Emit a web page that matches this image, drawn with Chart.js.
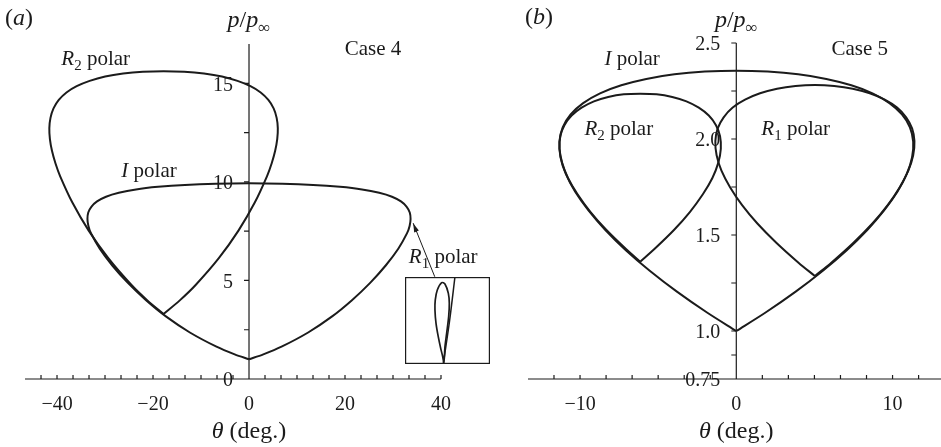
<!DOCTYPE html>
<html>
<head>
<meta charset="utf-8">
<script src="https://cdn.jsdelivr.net/npm/chart.js@4.4.1/dist/chart.umd.min.js"></script>
<style>
  html, body { margin: 0; padding: 0; background: #fff; }
  #wrap { position: relative; width: 941px; height: 447px; overflow: hidden; }
  canvas { position: absolute; top: 0; }
  #polarA { left: 0; }
  #polarB { left: 470px; }
  #insetA { left: 405px; top: 277px; }
</style>
</head>
<body>
<div id="wrap">
  <canvas id="polarA" width="500" height="447"></canvas>
  <canvas id="polarB" width="471" height="447"></canvas>
  <canvas id="insetA" width="85" height="87"></canvas>
</div>
<script>
const ink = '#1b1b1b';
const serif = '"Liberation Serif", "Times New Roman", serif';

// ---- Case 4: [theta (deg), p/p_inf] ----
const case4IPolar = [
  [0, 1.0], [2.98, 1.25], [6.78, 1.64], [12.32, 2.36], [17.17, 3.15], [21.45, 4.0],
  [25.24, 4.88], [28.48, 5.76], [31.1, 6.61], [32.93, 7.4], [33.46, 7.77], [33.66, 8.12],
  [33.49, 8.45], [32.85, 8.74], [31.66, 9.01], [29.79, 9.25], [27.13, 9.45], [23.54, 9.62],
  [18.95, 9.75], [13.35, 9.85], [6.92, 9.91], [0, 9.93], [-6.92, 9.91], [-13.35, 9.85],
  [-18.95, 9.75], [-23.54, 9.62], [-27.13, 9.45], [-29.79, 9.25], [-31.66, 9.01], [-32.85, 8.74],
  [-33.49, 8.45], [-33.66, 8.12], [-33.46, 7.77], [-32.93, 7.4], [-31.1, 6.61], [-28.48, 5.76],
  [-25.24, 4.88], [-21.45, 4.0], [-17.17, 3.15], [-12.32, 2.36], [-6.78, 1.64], [-2.98, 1.25], [0, 1.0]
];
const case4R2Polar = [
  [-17.8, 3.3], [-14.42, 3.99], [-11.12, 4.77], [-6.29, 6.13], [-2.2, 7.53], [1.17, 8.94],
  [3.76, 10.3], [4.73, 10.95], [5.45, 11.58], [5.88, 12.17], [6.0, 12.73], [5.76, 13.25],
  [5.13, 13.73], [4.03, 14.16], [2.43, 14.54], [0.3, 14.86], [-2.4, 15.13], [-5.63, 15.35],
  [-9.38, 15.5], [-13.49, 15.59], [-17.8, 15.62], [-22.11, 15.59], [-26.22, 15.5], [-29.97, 15.35],
  [-33.2, 15.13], [-35.9, 14.86], [-38.03, 14.54], [-39.63, 14.16], [-40.73, 13.73], [-41.36, 13.25],
  [-41.6, 12.73], [-41.48, 12.17], [-41.05, 11.58], [-40.33, 10.95], [-39.36, 10.3], [-36.77, 8.94],
  [-33.4, 7.53], [-29.31, 6.13], [-24.48, 4.77], [-21.18, 3.99], [-17.8, 3.3]
];
// magnified view near the I polar's maximum deflection
const case4IPolarNearMax = [[33.67, 8.8], [33.62, 8.4], [33.56, 8.0]];
const case4R1Polar = [
  [33.565, 8.01], [33.571, 8.067], [33.576, 8.159], [33.592, 8.282], [33.611, 8.435],
  [33.617, 8.558], [33.608, 8.65], [33.576, 8.736], [33.545, 8.748], [33.504, 8.68],
  [33.485, 8.589], [33.482, 8.497], [33.492, 8.374], [33.513, 8.251], [33.536, 8.144],
  [33.555, 8.067], [33.565, 8.01]
];

// ---- Case 5 ----
const case5IPolar = [
  [0, 1.0], [1.85, 1.095], [3.8, 1.205], [5.54, 1.314], [7.07, 1.421], [8.38, 1.526],
  [9.46, 1.628], [10.31, 1.725], [10.91, 1.818], [11.25, 1.905], [11.32, 1.986], [11.11, 2.061],
  [10.6, 2.128], [9.8, 2.187], [8.72, 2.238], [7.36, 2.28], [5.76, 2.313], [3.96, 2.337],
  [2.01, 2.351], [0, 2.356], [-2.01, 2.351], [-3.96, 2.337], [-5.76, 2.313], [-7.36, 2.28],
  [-8.72, 2.238], [-9.8, 2.187], [-10.6, 2.128], [-11.11, 2.061], [-11.32, 1.986], [-11.25, 1.905],
  [-10.91, 1.818], [-10.31, 1.725], [-9.46, 1.628], [-8.38, 1.526], [-7.07, 1.421], [-5.54, 1.314],
  [-3.8, 1.205], [-1.85, 1.095], [0, 1.0]
];
const case5R1Polar = [
  [5.03, 1.286], [6.08, 1.356], [7.5, 1.46], [8.71, 1.56], [9.7, 1.657], [10.46, 1.749],
  [11.01, 1.835], [11.32, 1.915], [11.4, 1.989], [11.25, 2.055], [10.87, 2.113], [10.29, 2.164],
  [9.5, 2.205], [8.54, 2.238], [7.45, 2.262], [6.27, 2.276], [5.03, 2.281], [3.79, 2.276],
  [2.61, 2.262], [1.52, 2.238], [0.56, 2.205], [-0.23, 2.164], [-0.81, 2.113], [-1.19, 2.055],
  [-1.34, 1.989], [-1.26, 1.915], [-0.95, 1.835], [-0.4, 1.749], [0.36, 1.657], [1.35, 1.56],
  [2.56, 1.46], [3.98, 1.356], [5.03, 1.286]
];
const case5R2Polar = [
  [-6.15, 1.361], [-5.24, 1.427], [-3.99, 1.526], [-2.96, 1.621], [-2.14, 1.712], [-1.53, 1.797],
  [-1.15, 1.877], [-0.99, 1.949], [-1.04, 2.015], [-1.3, 2.072], [-1.76, 2.122], [-2.4, 2.163],
  [-3.19, 2.196], [-4.1, 2.219], [-5.1, 2.233], [-6.15, 2.236], [-7.2, 2.233], [-8.2, 2.219],
  [-9.11, 2.196], [-9.9, 2.163], [-10.54, 2.122], [-11.0, 2.072], [-11.26, 2.015], [-11.31, 1.949],
  [-11.15, 1.877], [-10.77, 1.797], [-10.16, 1.712], [-9.34, 1.621], [-8.31, 1.526], [-7.06, 1.427],
  [-6.15, 1.361]
];

// ---- tick labels ----
const case4XLabels = [-40, -20, 0, 20, 40];
const case4YLabels = [0, 5, 10, 15];
const case5XLabels = [-10, 0, 10];
const case5YLabels = [0.75, 1.0, 1.5, 2.0, 2.5];

// minor tick marks
const case4XTicks = [];
for (let k = -13; k <= 12; k++) case4XTicks.push(k * 10 / 3);
const case4YTicks = [2.5, 5, 7.5, 10, 12.5, 15];
const case5XTicks = [];
for (let k = -7; k <= 7; k++) case5XTicks.push(k * 5 / 3);
const case5YTicks = [0.875, 1.0, 1.25, 1.5, 1.75, 2.0, 2.25, 2.5];

// text pieces: [string, style] where style is '', 'i' (italic) or 'sub'
const lblR2 = [['R', 'i'], ['2', 'sub'], [' polar', '']];
const lblR1 = [['R', 'i'], ['1', 'sub'], [' polar', '']];
const lblI = [['I', 'i'], [' polar', '']];
const yTitle = [['p', 'i'], ['/', ''], ['p', 'i'], ['\u221e', 'sub']];
const xTitle = [['\u03b8', 'i'], [' (deg.)', '']];

function fontFor(style, size) {
  if (style === 'sub') return Math.round(size * 0.72) + 'px ' + serif;
  if (style === 'i') return 'italic ' + size + 'px ' + serif;
  return size + 'px ' + serif;
}

function drawRich(ctx, parts, x, y, size, align) {
  let width = 0;
  parts.forEach(([t, s]) => { ctx.font = fontFor(s, size); width += ctx.measureText(t).width; });
  let cx = align === 'center' ? x - width / 2 : x;
  ctx.textAlign = 'left';
  ctx.textBaseline = 'alphabetic';
  parts.forEach(([t, s]) => {
    ctx.font = fontFor(s, size);
    ctx.fillText(t, cx, s === 'sub' ? y + size * 0.25 : y);
    cx += ctx.measureText(t).width;
  });
}

function signed(v) {
  return v < 0 ? '\u2212' + Math.abs(v) : String(v);
}

function line(points, width) {
  return {
    data: points.map(([t, p]) => ({ x: t, y: p })),
    showLine: true,
    borderColor: ink,
    borderWidth: width || 2,
    pointRadius: 0,
    tension: 0.3,
    fill: false,
    clip: false
  };
}

// axes through theta = 0 and along the bottom, plus labels
function polarFrame(cfg) {
  return {
    id: 'polarFrame',
    beforeDatasetsDraw(chart) {
      const { ctx, scales: { x, y } } = chart;
      const ox = x.getPixelForValue(0);
      const base = y.getPixelForValue(y.min);
      ctx.save();
      ctx.strokeStyle = ink;
      ctx.lineWidth = 1.2;
      ctx.beginPath();
      ctx.moveTo(x.left, base); ctx.lineTo(x.right, base);
      ctx.moveTo(ox, y.top); ctx.lineTo(ox, base);
      cfg.xTicks.forEach(v => {
        const px = x.getPixelForValue(v);
        ctx.moveTo(px, base); ctx.lineTo(px, base - 4);
      });
      cfg.yTicks.forEach(v => {
        const py = y.getPixelForValue(v);
        ctx.moveTo(ox, py); ctx.lineTo(ox - 5, py);
      });
      ctx.stroke();

      ctx.fillStyle = ink;
      ctx.font = '20px ' + serif;
      ctx.textAlign = 'center';
      ctx.textBaseline = 'alphabetic';
      cfg.xLabels.forEach(v => ctx.fillText(signed(v), x.getPixelForValue(v), base + 31));
      ctx.textAlign = 'right';
      ctx.textBaseline = 'middle';
      cfg.yLabels.forEach(v => ctx.fillText(cfg.yFormat(v), ox - 16, y.getPixelForValue(v) + 2));

      drawRich(ctx, yTitle, ox, 27, 24, 'center');
      drawRich(ctx, xTitle, ox, base + 59, 24, 'center');
      drawRich(ctx, [['(', ''], [cfg.tag, 'i'], [')', '']], cfg.tagAt[0], cfg.tagAt[1], 24, 'left');
      cfg.notes.forEach(n => {
        drawRich(ctx, n.parts, x.getPixelForValue(n.at[0]), y.getPixelForValue(n.at[1]), 21, 'left');
      });
      ctx.restore();
    },
    afterDatasetsDraw(chart) {
      if (!cfg.pointer) return;
      const { ctx, scales: { x, y } } = chart;
      const x1 = x.getPixelForValue(cfg.pointer.from[0]), y1 = y.getPixelForValue(cfg.pointer.from[1]);
      const x2 = x.getPixelForValue(cfg.pointer.to[0]), y2 = y.getPixelForValue(cfg.pointer.to[1]);
      const a = Math.atan2(y2 - y1, x2 - x1);
      ctx.save();
      ctx.strokeStyle = ink;
      ctx.fillStyle = ink;
      ctx.lineWidth = 1;
      ctx.beginPath();
      ctx.moveTo(x1, y1); ctx.lineTo(x2, y2);
      ctx.stroke();
      ctx.beginPath();
      ctx.moveTo(x2, y2);
      ctx.lineTo(x2 - 9 * Math.cos(a) + 2.5 * Math.sin(a), y2 - 9 * Math.sin(a) - 2.5 * Math.cos(a));
      ctx.lineTo(x2 - 9 * Math.cos(a) - 2.5 * Math.sin(a), y2 - 9 * Math.sin(a) + 2.5 * Math.cos(a));
      ctx.closePath();
      ctx.fill();
      ctx.restore();
    }
  };
}

const boxFrame = {
  id: 'boxFrame',
  afterDraw(chart) {
    const { ctx, chartArea: a } = chart;
    ctx.save();
    ctx.strokeStyle = ink;
    ctx.lineWidth = 1.2;
    ctx.strokeRect(a.left + 0.6, a.top + 0.6, a.width - 1.2, a.height - 1.2);
    ctx.restore();
  }
};

const quiet = { legend: { display: false }, tooltip: { enabled: false } };

new Chart(document.getElementById('polarA'), {
  type: 'scatter',
  data: { datasets: [line(case4IPolar), line(case4R2Polar)] },
  options: {
    responsive: false,
    animation: false,
    events: [],
    layout: { padding: { left: 25, right: 59, top: 44, bottom: 68 } },
    scales: {
      x: { type: 'linear', display: false, min: -46.67, max: 40 },
      y: { type: 'linear', display: false, min: 0, max: 17 }
    },
    plugins: quiet
  },
  plugins: [polarFrame({
    xTicks: case4XTicks, yTicks: case4YTicks,
    xLabels: case4XLabels, yLabels: case4YLabels,
    yFormat: v => String(v),
    tag: 'a', tagAt: [5, 25],
    notes: [
      { parts: lblR2, at: [-39.1, 15.94] },
      { parts: lblI, at: [-26.6, 10.26] },
      { parts: [['Case 4', '']], at: [19.95, 16.45] },
      { parts: lblR1, at: [33.3, 5.88] }
    ],
    pointer: { from: [38.7, 5.19], to: [34.2, 7.91] }
  })]
});

new Chart(document.getElementById('polarB'), {
  type: 'scatter',
  data: { datasets: [line(case5IPolar), line(case5R1Polar), line(case5R2Polar)] },
  options: {
    responsive: false,
    animation: false,
    events: [],
    layout: { padding: { left: 58, right: 0, top: 43, bottom: 68 } },
    scales: {
      x: { type: 'linear', display: false, min: -13.33, max: 13.1 },
      y: { type: 'linear', display: false, min: 0.75, max: 2.5 }
    },
    plugins: quiet
  },
  plugins: [polarFrame({
    xTicks: case5XTicks, yTicks: case5YTicks,
    xLabels: case5XLabels, yLabels: case5YLabels,
    yFormat: v => (v === 0.75 ? '0.75' : v.toFixed(1)),
    tag: 'b', tagAt: [55, 24],
    notes: [
      { parts: lblI, at: [-8.44, 2.387] },
      { parts: lblR2, at: [-9.72, 2.022] },
      { parts: lblR1, at: [1.6, 2.022] },
      { parts: [['Case 5', '']], at: [6.09, 2.439] }
    ]
  })]
});

new Chart(document.getElementById('insetA'), {
  type: 'scatter',
  data: { datasets: [line(case4IPolarNearMax, 1.5), line(case4R1Polar, 1.7)] },
  options: {
    responsive: false,
    animation: false,
    events: [],
    layout: { padding: 0 },
    scales: {
      x: { type: 'linear', display: false, min: 33.2, max: 34.0 },
      y: { type: 'linear', display: false, min: 8.0, max: 8.8 }
    },
    plugins: quiet
  },
  plugins: [boxFrame]
});
</script>
</body>
</html>
